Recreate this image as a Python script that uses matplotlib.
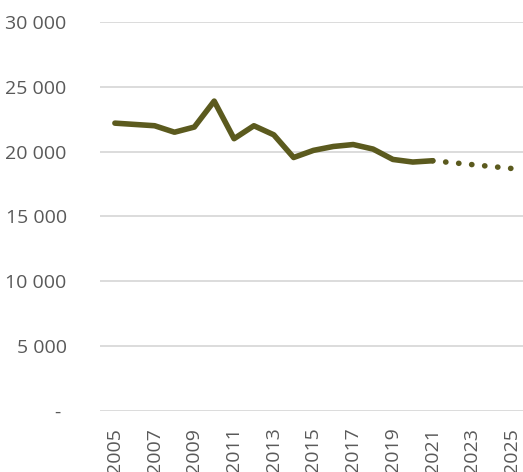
import matplotlib
matplotlib.use("Agg")
import matplotlib.pyplot as plt
from matplotlib.ticker import FixedLocator, FuncFormatter

years_actual = [2005, 2006, 2007, 2008, 2009, 2010, 2011, 2012, 2013, 2014,
                2015, 2016, 2017, 2018, 2019, 2020, 2021]
values_actual = [22200, 22100, 22000, 21500, 21900, 23900, 21000, 22000, 21300, 19550,
                 20100, 20400, 20550, 20200, 19400, 19200, 19300]
years_forecast = [2021, 2022, 2023, 2024, 2025]
values_forecast = [19300, 19150, 19000, 18850, 18700]

x_ticks = list(range(2005, 2026, 2))
y_ticks = [0, 5000, 10000, 15000, 20000, 25000, 30000]

color = "#5B5A1E"
text_color = "#595959"
plt.rcParams['font.family'] = ['Open Sans', 'DejaVu Sans']

fig = plt.figure(figsize=(5.23, 4.72), dpi=100)
ax = fig.add_axes([100/523, (472-411)/472, (523-100)/523, 389/472])

ax.plot(years_actual, values_actual, color=color, lw=4.0, solid_capstyle='round',
        solid_joinstyle='round', zorder=3)
ax.plot(years_forecast, values_forecast, color=color, lw=4.0, linestyle=(0, (0.05, 2.3)),
        dash_capstyle='round', zorder=3)

ax.set_xlim(2004.25, 2025.55)
ax.set_ylim(0, 30000)
ax.yaxis.set_major_locator(FixedLocator(y_ticks))
ax.xaxis.set_major_locator(FixedLocator(x_ticks))

def yfmt(v, pos):
    if v == 0:
        return "- "
    return f"{int(v):,}".replace(",", " ")
ax.yaxis.set_major_formatter(FuncFormatter(yfmt))

ax.grid(axis='y', color='#D9D9D9', lw=1.3)
ax.set_axisbelow(True)
for s in ax.spines.values():
    s.set_visible(False)
ax.tick_params(axis='both', length=0, labelsize=14, colors=text_color)
ax.tick_params(axis='y', pad=24)
ax.tick_params(axis='x', pad=12)
for lab in ax.get_xticklabels():
    lab.set_rotation(90)

fig.savefig("out.png", dpi=100)
